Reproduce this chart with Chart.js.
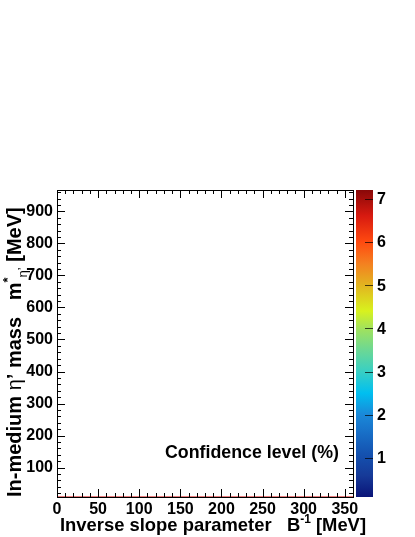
<!DOCTYPE html>
<html>
<head>
<meta charset="utf-8">
<script src="https://cdn.jsdelivr.net/npm/chart.js@4.4.0/dist/chart.umd.min.js"></script>
<style>
  body { margin: 0; background: #fff; }
  #wrap { width: 415px; height: 537px; }
</style>
</head>
<body>
<div id="wrap"><canvas id="grafico"></canvas></div>
<script>
// dados
const xTicks = [0, 50, 100, 150, 200, 250, 300, 350];
const yTicks = [100, 200, 300, 400, 500, 600, 700, 800, 900];
const xRange = [0, 360];
const yRange = [8, 967];
// linha de contorno (vermelha, na borda de baixo)
const contourX = [0, 360];
const contourY = [8, 8];
// escala de cores
const cbRange = [0.1, 7.2];
const cbTicks = [1, 2, 3, 4, 5, 6, 7];
const paletteStops = [0.1, 0.6, 1.1, 1.6, 2.0, 2.5, 3.0, 3.5, 4.0, 4.4, 5.0, 5.5, 6.0, 6.6, 7.2];
const paletteColors = ['#0a1478', '#163a98', '#1452b0', '#1870c8', '#1a88d8', '#00bff0',
                       '#38cfc4', '#6cd894', '#a2e25c', '#d8f21e', '#e2b420', '#f48020',
                       '#ff4a10', '#d81a10', '#880808'];

const FONT = "'Liberation Sans', Arial, sans-serif";

function desenhaTicks(ctx, a, x, y) {
    const maj = 8, min = 4;
    ctx.save();
    ctx.strokeStyle = '#000';
    ctx.lineWidth = 1;
    ctx.beginPath();
    for (let v = xRange[0]; v <= xRange[1]; v += 10) {
        const px = Math.round(x.getPixelForValue(v)) + 0.5;
        const len = v % 50 === 0 ? maj : min;
        ctx.moveTo(px, a.bottom); ctx.lineTo(px, a.bottom - len);
        ctx.moveTo(px, a.top); ctx.lineTo(px, a.top + len);
    }
    for (let v = 20; v <= yRange[1]; v += 20) {
        if (v < yRange[0]) continue;
        const py = Math.round(y.getPixelForValue(v)) + 0.5;
        const len = v % 100 === 0 ? maj : min;
        ctx.moveTo(a.left, py); ctx.lineTo(a.left + len, py);
        ctx.moveTo(a.right, py); ctx.lineTo(a.right - len, py);
    }
    ctx.stroke();
    ctx.strokeRect(Math.round(a.left) + 0.5, Math.round(a.top) + 0.5,
                   Math.round(a.right - a.left), Math.round(a.bottom - a.top));
    ctx.restore();
}

function desenhaPaleta(ctx, a) {
    const x0 = 356, w = 17;
    const top = a.top, bot = a.bottom;
    const toPx = v => bot - (v - cbRange[0]) / (cbRange[1] - cbRange[0]) * (bot - top);
    const grad = ctx.createLinearGradient(0, bot, 0, top);
    paletteColors.forEach((c, i) =>
        grad.addColorStop((paletteStops[i] - cbRange[0]) / (cbRange[1] - cbRange[0]), c));
    ctx.save();
    ctx.fillStyle = grad;
    ctx.fillRect(x0, top, w, bot - top);
    ctx.strokeStyle = 'rgba(0,0,0,0.7)';
    ctx.beginPath();
    cbTicks.forEach(v => {
        const py = Math.round(toPx(v)) + 0.5;
        ctx.moveTo(x0 + w, py); ctx.lineTo(x0 + w - 8, py);
    });
    ctx.stroke();
    ctx.fillStyle = '#000';
    ctx.font = 'bold 16px ' + FONT;
    ctx.textBaseline = 'middle';
    ctx.textAlign = 'left';
    cbTicks.forEach(v => ctx.fillText(String(v), x0 + w + 4, toPx(v) + 1));
    ctx.restore();
}

// desenha pedaços de texto em sequência (normal, sobrescrito, subscrito)
function textoComposto(ctx, partes, size) {
    let x = 0;
    partes.forEach(p => {
        const s = p.small ? size * 0.65 : size;
        ctx.font = (p.normal ? '' : 'bold ') + s + 'px ' + FONT;
        ctx.fillText(p.t, x, p.dy ? p.dy * size : 0);
        x += ctx.measureText(p.t).width;
    });
}

const plugin = {
    id: 'estiloRoot',
    afterDraw(chart) {
        const ctx = chart.ctx, a = chart.chartArea;
        desenhaTicks(ctx, a, chart.scales.x, chart.scales.y);
        desenhaPaleta(ctx, a);
        ctx.save();
        ctx.fillStyle = '#000';
        ctx.textBaseline = 'alphabetic';
        ctx.textAlign = 'left';
        // titulo eixo x
        ctx.save();
        ctx.translate(60, 531);
        textoComposto(ctx, [
            { t: 'Inverse slope parameter   B' },
            { t: '-1', small: true, dy: -0.45 },
            { t: ' [MeV]' }
        ], 18.4);
        ctx.restore();
        // titulo eixo y
        ctx.save();
        ctx.translate(21, 497);
        ctx.rotate(-Math.PI / 2);
        textoComposto(ctx, [
            { t: 'In-medium ' },
            { t: 'η', normal: true },
            { t: '\u2019 mass   m' },
            { t: '*', small: true, dy: -0.45 },
            { t: 'η\u2019', small: true, normal: true, dy: 0.3 },
            { t: ' [MeV]' }
        ], 20);
        ctx.restore();
        // legenda
        ctx.font = 'bold 17.8px ' + FONT;
        ctx.textBaseline = 'middle';
        ctx.fillText('Confidence level (%)', 165, 453);
        ctx.restore();
    }
};

new Chart(document.getElementById('grafico'), {
    type: 'scatter',
    data: {
        datasets: [{
            data: contourX.map((v, i) => ({ x: v, y: contourY[i] })),
            showLine: true,
            borderColor: 'rgba(220,60,60,0.9)',
            borderWidth: 1.5,
            pointRadius: 0
        }]
    },
    options: {
        responsive: true,
        maintainAspectRatio: false,
        animation: false,
        layout: { padding: { top: 190, right: 62, left: 0, bottom: 0 } },
        scales: {
            x: {
                type: 'linear',
                min: xRange[0],
                max: xRange[1],
                afterBuildTicks: s => { s.ticks = xTicks.map(v => ({ value: v })); },
                afterFit: s => { s.height = 40; },
                ticks: {
                    color: '#000',
                    font: { family: FONT, size: 16, weight: 'bold' },
                    padding: 3,
                    maxRotation: 0,
                    autoSkip: false
                },
                grid: { drawOnChartArea: false, drawTicks: false },
                border: { display: false }
            },
            y: {
                type: 'linear',
                min: yRange[0],
                max: yRange[1],
                afterBuildTicks: s => { s.ticks = yTicks.map(v => ({ value: v })); },
                afterFit: s => { s.width = 57; },
                ticks: {
                    color: '#000',
                    font: { family: FONT, size: 16, weight: 'bold' },
                    padding: 4,
                    autoSkip: false
                },
                grid: { drawOnChartArea: false, drawTicks: false },
                border: { display: false }
            }
        },
        plugins: {
            legend: { display: false },
            tooltip: { enabled: false }
        }
    },
    plugins: [plugin]
});
</script>
</body>
</html>
